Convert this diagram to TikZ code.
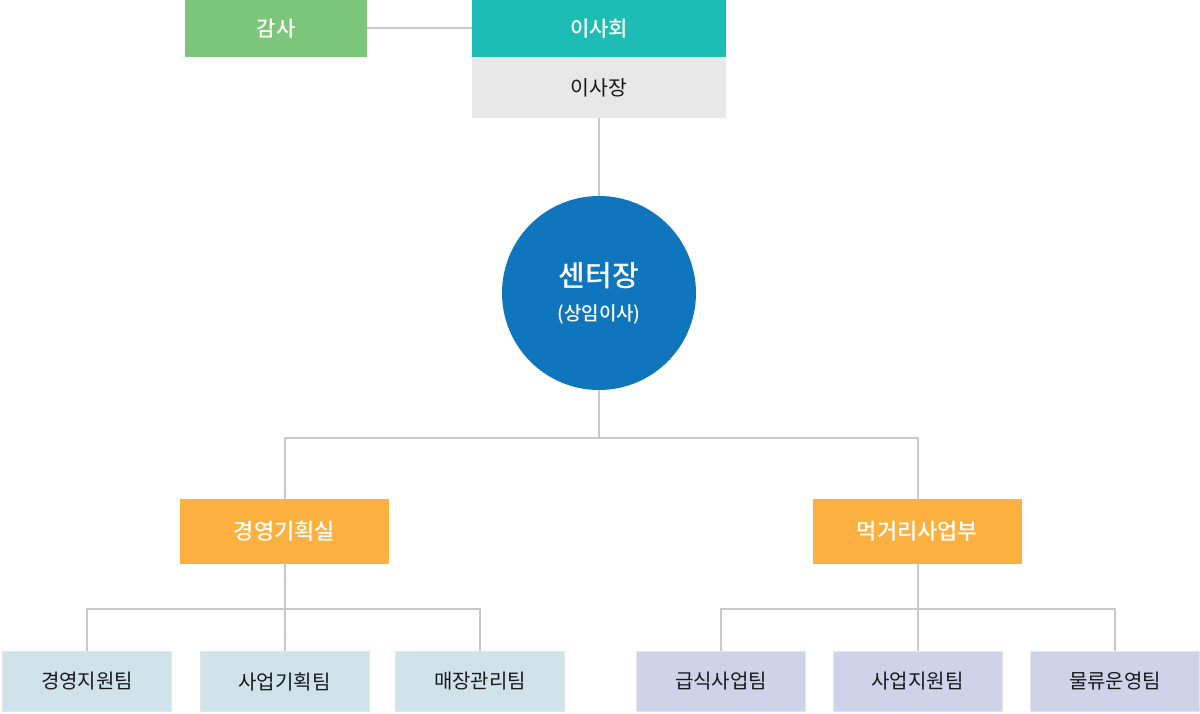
\documentclass[tikz,border=0pt]{standalone}
\usepackage{fontspec}
\setmainfont{Noto Sans CJK KR}
\newfontfamily\mediumfont{Noto Sans CJK KR Medium}
\usetikzlibrary{calc}

\definecolor{audit}{HTML}{7BC67A}
\definecolor{board}{HTML}{1DBCB4}
\definecolor{chair}{HTML}{E8E8E8}
\definecolor{ceoblue}{HTML}{0F75BC}
\definecolor{dept}{HTML}{FBB040}
\definecolor{teamA}{HTML}{D1E3EA}
\definecolor{teamB}{HTML}{CFD3EA}
\definecolor{linkgray}{HTML}{C8C8C8}

\begin{document}
\begin{tikzpicture}[x=1pt, y=-1pt,
  topbox/.style={rectangle, inner sep=0, minimum height=57pt, text=white, font=\mediumfont\fontsize{21}{24}\selectfont},
  deptbox/.style={rectangle, fill=dept, inner sep=0, minimum width=209pt, minimum height=65pt, text=white, font=\mediumfont\fontsize{22}{24}\selectfont},
  teambox/.style={rectangle, draw=white!80!gray, inner sep=0, minimum width=169pt, minimum height=60pt, text=black!90, font=\fontsize{20}{22}\selectfont},
  link/.style={draw=linkgray, line width=2pt}]
\useasboundingbox (0,0) rectangle (1200,714);

\node[topbox, fill=audit, minimum width=182pt] (audit) at (276,28.5) {감사};
\node[topbox, fill=board, minimum width=254pt] (board) at (599,28.5) {이사회};
\node[rectangle, fill=chair, inner sep=0, minimum width=254pt, minimum height=61pt, text=black!90, font=\fontsize{20.5}{24}\selectfont] (chair) at (599,87.5) {이사장};

\node[circle, fill=ceoblue, inner sep=0, minimum size=194pt, text=white, align=center, font=\mediumfont\fontsize{19}{34}\selectfont] (ceo) at (599,293) {{\fontsize{29}{34}\selectfont 센터장}\\{(상임이사)}};

\node[deptbox] (mgmt) at (284.5,531.5) {경영기획실};
\node[deptbox] (food) at (917.5,531.5) {먹거리사업부};

\node[teambox, fill=teamA] (t1) at (87,681.5) {경영지원팀};
\node[teambox, fill=teamA] (t2) at (284.5,681.5) {사업기획팀};
\node[teambox, fill=teamA] (t3) at (480,681.5) {매장관리팀};
\node[teambox, fill=teamB] (t4) at (721,681.5) {급식사업팀};
\node[teambox, fill=teamB] (t5) at (917.5,681.5) {사업지원팀};
\node[teambox, fill=teamB] (t6) at (1115,681.5) {물류운영팀};

\coordinate (split) at (599,438);
\coordinate (msplit) at (284.5,609);
\coordinate (fsplit) at (917.5,609);

\draw[link] (audit.east) -- (board.west);
\draw[link] (chair.south) -- (ceo.north);
\draw[link] (ceo.south) -- (split);
\draw[link] (mgmt.north) |- (split) -| (food.north);
\draw[link] (mgmt.south) -- (t2.north);
\draw[link] (t1.north) |- (msplit) -| (t3.north);
\draw[link] (food.south) -- (t5.north);
\draw[link] (t4.north) |- (fsplit) -| (t6.north);
\end{tikzpicture}
\end{document}
